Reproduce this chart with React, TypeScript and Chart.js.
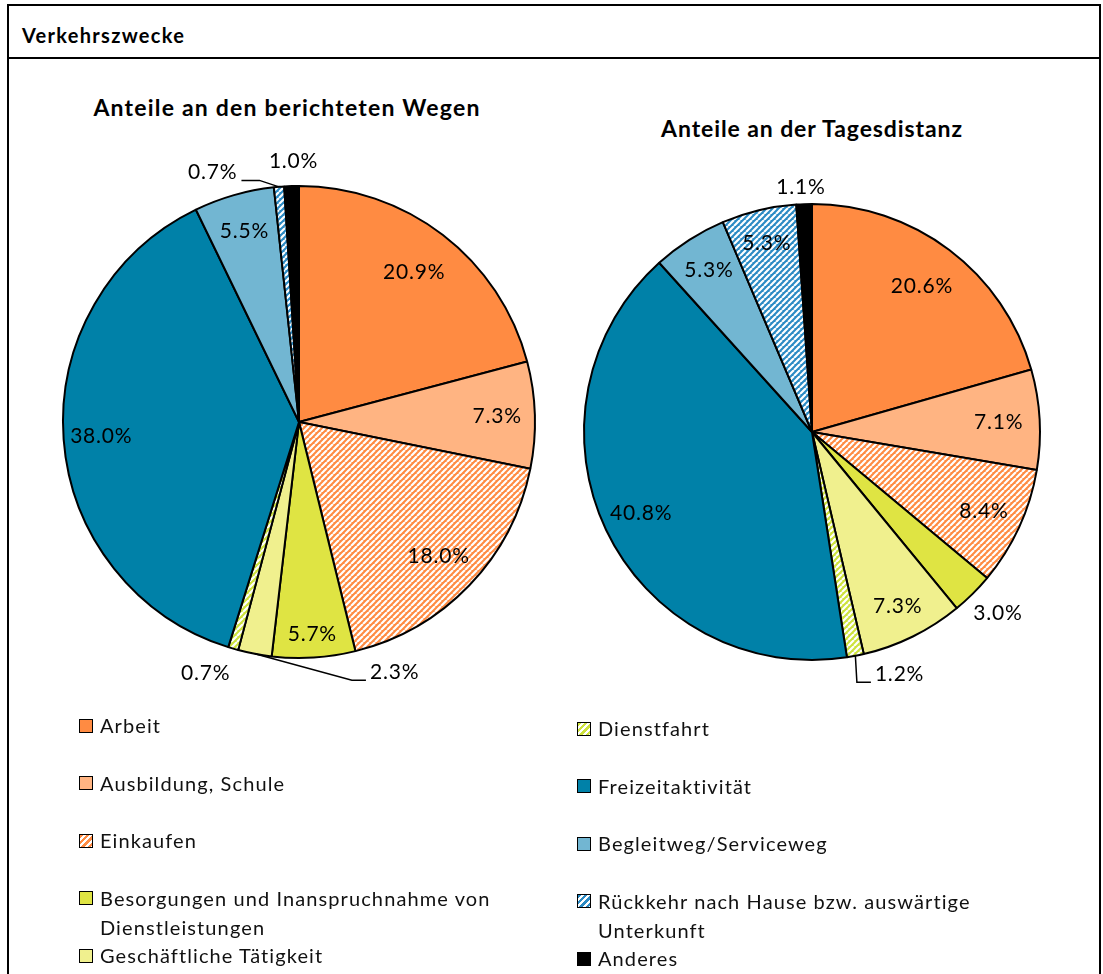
import React, { useEffect, useRef } from "react";
import { Chart, registerables } from "chart.js";

Chart.register(...registerables);

// ---------- data ----------
const mainTitle = "Verkehrszwecke";
const pieTitles = ["Anteile an den berichteten Wegen", "Anteile an der Tagesdistanz"];
const categories = [
  "Arbeit",
  "Ausbildung, Schule",
  "Einkaufen",
  "Besorgungen und Inanspruchnahme von Dienstleistungen",
  "Geschäftliche Tätigkeit",
  "Dienstfahrt",
  "Freizeitaktivität",
  "Begleitweg/Serviceweg",
  "Rückkehr nach Hause bzw. auswärtige Unterkunft",
  "Anderes",
];
const wegeValues = [20.9, 7.3, 18.0, 5.7, 2.3, 0.7, 38.0, 5.5, 0.7, 1.0];
const distanzValues = [20.6, 7.1, 8.4, 3.0, 7.3, 1.2, 40.8, 5.3, 5.3, 1.1];

// ---------- styles ----------
const FONT = "Lato, 'Open Sans', sans-serif";

type Fill = { base: string; stripe?: string };
const fills: Fill[] = [
  { base: "#FF8B42" },
  { base: "#FFB482" },
  { base: "#FF8B42", stripe: "#FFFFFF" },
  { base: "#DFE443" },
  { base: "#F0F08E" },
  { base: "#CDE23C", stripe: "#FFFFFF" },
  { base: "#0081A8" },
  { base: "#72B6D2" },
  { base: "#2A8AC4", stripe: "#FFFFFF" },
  { base: "#000000" },
];

type Place = { r: number; shift?: number; leader?: "left" | "right" };
const wegePlaces: Place[] = [
  { r: 0.8 },
  { r: 0.84 },
  { r: 0.82 },
  { r: 0.9 },
  { r: 1.135, shift: -31.7, leader: "left" },
  { r: 1.134, shift: 4.2 },
  { r: 0.84 },
  { r: 0.84 },
  { r: 1.119, shift: -14.2, leader: "right" },
  { r: 1.104, shift: 0.6 },
];
const distanzPlaces: Place[] = [
  { r: 0.8 },
  { r: 0.82 },
  { r: 0.83 },
  { r: 1.14, shift: -0.9 },
  { r: 0.85 },
  { r: 1.13, shift: -8.9, leader: "left" },
  { r: 0.83 },
  { r: 0.84 },
  { r: 0.85 },
  { r: 1.075, shift: -0.6 },
];

function hatch(base: string, stripe: string, size: number, lw: number) {
  const c = document.createElement("canvas");
  c.width = size;
  c.height = size;
  const g = c.getContext("2d")!;
  g.fillStyle = base;
  g.fillRect(0, 0, size, size);
  g.strokeStyle = stripe;
  g.lineWidth = lw;
  g.beginPath();
  for (const o of [-size, 0, size]) {
    g.moveTo(o, size);
    g.lineTo(o + size, 0);
  }
  g.stroke();
  return g.createPattern(c, "repeat")!;
}

function cssFill(f: Fill) {
  if (!f.stripe) return f.base;
  return `repeating-linear-gradient(135deg, ${f.base} 0px, ${f.base} 2.5px, ${f.stripe} 2.5px, ${f.stripe} 4.5px)`;
}

type PieProps = {
  values: number[];
  places: Place[];
  radius: number;
  left: number;
  top: number;
  width: number;
  height: number;
};

function Pie({ values, places, radius, left, top, width, height }: PieProps) {
  const ref = useRef<HTMLCanvasElement>(null);
  useEffect(() => {
    const canvas = ref.current!;
    const bg = fills.map((f) => (f.stripe ? hatch(f.base, f.stripe, 6, 2.2) : f.base));
    const labelPlugin = {
      id: "pctLabels",
      afterDatasetsDraw(chart: any) {
        const ctx = chart.ctx as CanvasRenderingContext2D;
        const meta = chart.getDatasetMeta(0);
        ctx.save();
        ctx.font = `21px ${FONT}`;
        (ctx as any).letterSpacing = "0.8px";
        ctx.fillStyle = "#000";
        ctx.textAlign = "center";
        ctx.textBaseline = "middle";
        ctx.strokeStyle = "#000";
        ctx.lineWidth = 1.5;
        meta.data.forEach((el: any, i: number) => {
          const { x, y, startAngle, endAngle, outerRadius } = el.getProps(
            ["x", "y", "startAngle", "endAngle", "outerRadius"],
            true
          );
          const p = places[i];
          const mid = (startAngle + endAngle) / 2;
          const a = mid + ((p.shift || 0) * Math.PI) / 180;
          const lx = x + Math.cos(a) * outerRadius * p.r;
          const ly = y + Math.sin(a) * outerRadius * p.r;
          const text = values[i].toFixed(1) + "%";
          ctx.fillText(text, lx, ly);
          if (p.leader) {
            const w = ctx.measureText(text).width;
            const sx = x + Math.cos(mid) * outerRadius;
            const sy = y + Math.sin(mid) * outerRadius;
            const endX = p.leader === "left" ? lx - w / 2 - 4 : lx + w / 2 + 4;
            const elbowX = p.leader === "left" ? endX - 14 : endX + 18;
            const yy = ly + 8;
            ctx.beginPath();
            ctx.moveTo(sx, sy);
            ctx.lineTo(elbowX, yy);
            ctx.lineTo(endX, yy);
            ctx.stroke();
          }
        });
        ctx.restore();
      },
    };
    const chart = new Chart(canvas, {
      type: "pie",
      data: {
        labels: categories,
        datasets: [
          {
            data: values,
            backgroundColor: bg as any,
            borderColor: "#000000",
            borderWidth: 2,
          },
        ],
      },
      options: {
        responsive: false,
        animation: false,
        devicePixelRatio: 1,
        radius,
        layout: { padding: 0 },
        plugins: {
          legend: { display: false },
          tooltip: { enabled: false },
          title: { display: false },
        },
      } as any,
      plugins: [labelPlugin],
    });
    return () => chart.destroy();
  }, []);
  return (
    <canvas
      ref={ref}
      width={width}
      height={height}
      style={{ position: "absolute", left, top, width, height }}
    />
  );
}

function LegendColumn({ indices, left, top }: { indices: number[]; left: number; top: number }) {
  return (
    <div style={{ position: "absolute", left, top, width: 440 }}>
      {indices.map((i) => (
        <div key={i} style={{ position: "relative", height: 57.5 }}>
          <div
            style={{
              position: "absolute",
              left: 0,
              top: 7.5,
              width: 14,
              height: 14,
              boxSizing: "border-box",
              border: "1.6px solid #000",
              background: cssFill(fills[i]),
            }}
          />
          <div
            style={{
              position: "absolute",
              left: 21,
              top: 0,
              width: 410,
              font: `20px ${FONT}`,
              lineHeight: "29px",
              letterSpacing: "1.1px",
              color: "#111",
            }}
          >
            {categories[i]}
          </div>
        </div>
      ))}
    </div>
  );
}

export default function App() {
  return (
    <div style={{ position: "absolute", left: 0, top: 0, width: 1103, height: 974, overflow: "hidden", background: "#fff" }}>
      <div
        style={{
          position: "absolute",
          left: 7,
          top: 4,
          width: 1094,
          height: 990,
          boxSizing: "border-box",
          border: "2px solid #000",
        }}
      />
      <div style={{ position: "absolute", left: 7, top: 57, width: 1094, height: 2, background: "#000" }} />
      <div
        style={{
          position: "absolute",
          left: 22,
          top: 21,
          font: `bold 20px ${FONT}`,
          lineHeight: "28px",
          letterSpacing: "1.3px",
          color: "#000",
        }}
      >
        {mainTitle}
      </div>
      <div
        style={{
          position: "absolute",
          left: 287 - 300,
          width: 600,
          top: 92,
          textAlign: "center",
          font: `bold 23px ${FONT}`,
          lineHeight: "30px",
          letterSpacing: "1.2px",
          color: "#000",
        }}
      >
        {pieTitles[0]}
      </div>
      <div
        style={{
          position: "absolute",
          left: 812 - 300,
          width: 600,
          top: 113,
          textAlign: "center",
          font: `bold 23px ${FONT}`,
          lineHeight: "30px",
          letterSpacing: "0.9px",
          color: "#000",
        }}
      >
        {pieTitles[1]}
      </div>
      <Pie values={wegeValues} places={wegePlaces} radius={236} left={39} top={132} width={520} height={580} />
      <Pie values={distanzValues} places={distanzPlaces} radius={228} left={572} top={142} width={480} height={580} />
      <LegendColumn indices={[0, 1, 2, 3, 4]} left={79} top={711} />
      <LegendColumn indices={[5, 6, 7, 8, 9]} left={577} top={714} />
    </div>
  );
}
